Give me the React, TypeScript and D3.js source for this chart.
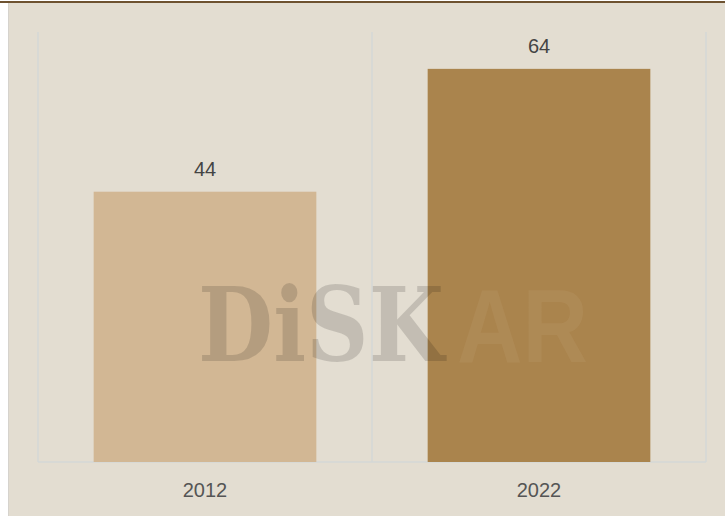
import React, { useLayoutEffect, useRef } from 'react';
import * as d3 from 'd3';

// data
const years = ['2012', '2022'];
const values = [44, 64];
const barColors = ['#D2B794', '#AA844D'];

const W = 725;
const H = 516;
const plot = { left: 38, right: 706, top: 32, bottom: 462 };

export default function App() {
  const diskRef = useRef<SVGTextElement>(null);
  const arRef = useRef<SVGTextElement>(null);

  const grid = d3.scaleBand<string>().domain(years).range([plot.left, plot.right]);
  const x = d3
    .scaleBand<string>()
    .domain(years)
    .range([plot.left, plot.right])
    .paddingInner(1 / 3)
    .paddingOuter(1 / 6);
  const y = d3.scaleLinear().domain([0, 70]).range([plot.bottom, plot.top]);

  const gridXs = years.map(d => grid(d) as number).concat([plot.right]);

  // squeeze the watermark words to the logo width
  useLayoutEffect(() => {
    const fit = (el: SVGTextElement | null, x0: number, y0: number, w: number) => {
      if (!el) return;
      const len = el.getComputedTextLength();
      d3.select(el).attr('transform', `translate(${x0},${y0}) scale(${w / len},1)`);
    };
    fit(diskRef.current, 198, 361, 246);
    fit(arRef.current, 457, 362, 131);
  }, []);

  return (
    <div style={{ position: 'absolute', left: 0, top: 0 }}>
      <svg width={W} height={H} style={{ display: 'block' }}>
        <rect x={0} y={0} width={W} height={H} fill="#ffffff" />
        <rect x={8} y={3} width={W - 8} height={H - 3} fill="#E3DDD1" />
        <line x1={8.5} x2={8.5} y1={3} y2={H} stroke="#D6D3CD" strokeWidth={1} />
        <rect x={0} y={1} width={W} height={2} fill="#6E5230" />

        {/* grid */}
        {gridXs.map((gx, i) => (
          <line key={i} x1={gx} x2={gx} y1={plot.top} y2={plot.bottom} stroke="#D5D7D6" strokeWidth={1.5} />
        ))}
        <line x1={plot.left} x2={plot.right} y1={plot.bottom} y2={plot.bottom} stroke="#D5D7D6" strokeWidth={1.5} />

        {/* bars */}
        {years.map((d, i) => (
          <rect
            key={d}
            x={x(d)}
            y={y(values[i])}
            width={x.bandwidth()}
            height={y(0) - y(values[i])}
            fill={barColors[i]}
          />
        ))}

        {/* value labels */}
        {years.map((d, i) => (
          <text
            key={d}
            x={(x(d) as number) + x.bandwidth() / 2}
            y={y(values[i]) - 16}
            textAnchor="middle"
            fontFamily="'Liberation Sans', Arial, sans-serif"
            fontSize={20}
            fill="#444"
          >
            {values[i]}
          </text>
        ))}

        {/* axis labels */}
        {years.map(d => (
          <text
            key={d}
            x={(x(d) as number) + x.bandwidth() / 2}
            y={497}
            textAnchor="middle"
            fontFamily="'Liberation Sans', Arial, sans-serif"
            fontSize={20}
            fill="#555"
          >
            {d}
          </text>
        ))}

        {/* watermark */}
        <text
          ref={diskRef}
          fontFamily="'DejaVu Serif', serif"
          fontWeight="bold"
          fontSize={103}
          fill="#000"
          fillOpacity={0.14}
        >
          DiSK
        </text>
        <text
          ref={arRef}
          fontFamily="'Liberation Sans', Arial, sans-serif"
          fontWeight="bold"
          fontSize={103}
          fill="#BDA072"
          fillOpacity={0.22}
        >
          AR
        </text>
      </svg>
    </div>
  );
}
